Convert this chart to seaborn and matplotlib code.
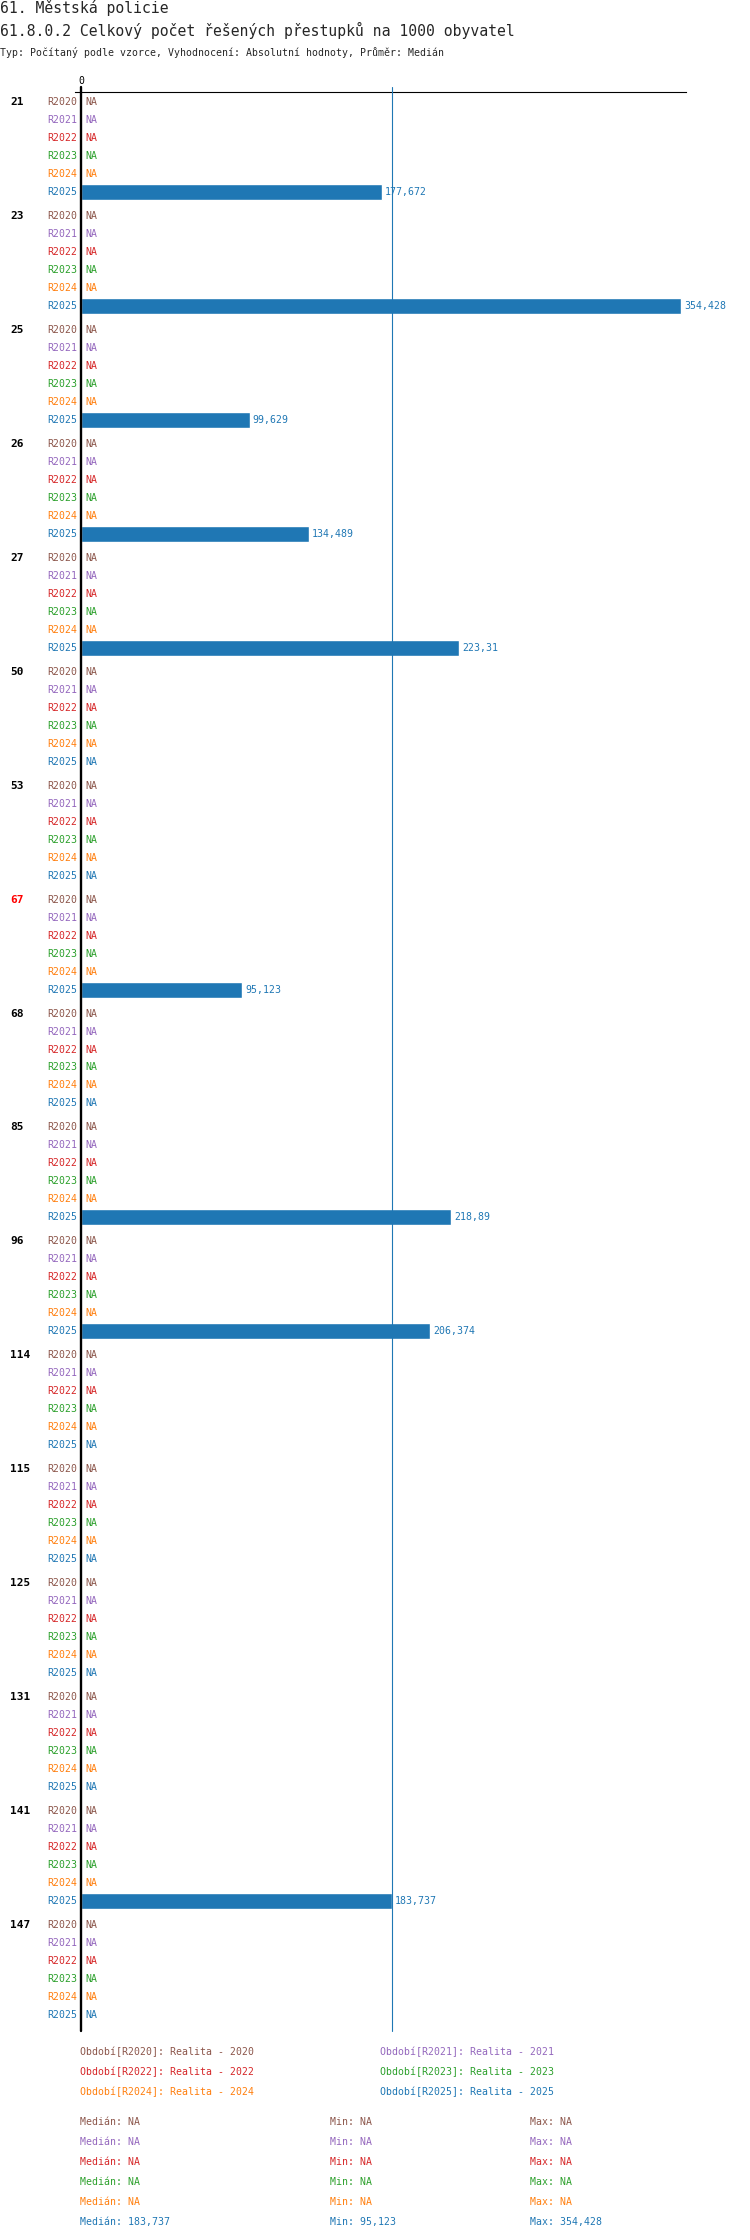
import numpy as np
import pandas as pd
import matplotlib
matplotlib.use("Agg")
import matplotlib.pyplot as plt
from matplotlib import transforms
import seaborn as sns

NA = np.nan

# data
groups = ["21", "23", "25", "26", "27", "50", "53", "67", "68", "85",
          "96", "114", "115", "125", "131", "141", "147"]
highlight = ["67"]
years = ["R2020", "R2021", "R2022", "R2023", "R2024", "R2025"]
year_names = ["Realita - 2020", "Realita - 2021", "Realita - 2022",
              "Realita - 2023", "Realita - 2024", "Realita - 2025"]
year_colors = ["#8c564b", "#9467bd", "#d62728", "#2ca02c", "#ff7f0e", "#1f77b4"]

r2020 = [NA, NA, NA, NA, NA, NA, NA, NA, NA, NA, NA, NA, NA, NA, NA, NA, NA]
r2021 = [NA, NA, NA, NA, NA, NA, NA, NA, NA, NA, NA, NA, NA, NA, NA, NA, NA]
r2022 = [NA, NA, NA, NA, NA, NA, NA, NA, NA, NA, NA, NA, NA, NA, NA, NA, NA]
r2023 = [NA, NA, NA, NA, NA, NA, NA, NA, NA, NA, NA, NA, NA, NA, NA, NA, NA]
r2024 = [NA, NA, NA, NA, NA, NA, NA, NA, NA, NA, NA, NA, NA, NA, NA, NA, NA]
r2025 = [177.672, 354.428, 99.629, 134.489, 223.31, NA, NA, 95.123, NA,
         218.89, 206.374, NA, NA, NA, NA, 183.737, NA]
series = [r2020, r2021, r2022, r2023, r2024, r2025]

title1 = "61. Městská policie"
title2 = "61.8.0.2 Celkový počet řešených přestupků na 1000 obyvatel"
subtitle = "Typ: Počítaný podle vzorce, Vyhodnocení: Absolutní hodnoty, Průměr: Medián"


def fmt(v):
    if v is None or np.isnan(v):
        return "NA"
    return f"{v:.3f}".rstrip("0").rstrip(".").replace(".", ",")


# layout
W, H = 750, 2240
GROUP_STEP = 6 + 1 / 3
rows = []
for g, code in enumerate(groups):
    for r, yr in enumerate(years):
        rows.append({"group": code, "year": yr, "ri": r,
                     "pos": g * GROUP_STEP + r, "value": series[r][g]})
df = pd.DataFrame(rows)

sns.set_theme(style="white")
plt.rcParams["font.family"] = ["DejaVu Sans Mono", "DejaVu Sans"]
small = 7.1
fig = plt.figure(figsize=(W / 100, H / 100), dpi=100)
ax_left, ax_right, ax_top, ax_bot = 75, 686, 92, 2031
ax = fig.add_axes([ax_left / W, 1 - ax_bot / H, (ax_right - ax_left) / W,
                   (ax_bot - ax_top) / H])

sns.barplot(data=df, x="value", y="pos", orient="y", native_scale=True,
            width=0.89, color="#1f77b4", saturation=1, errorbar=None, ax=ax)

vmax = np.nanmax(r2025)
ax.set_xlim(-6 / 1.693, vmax * 1.0085)
ax.set_ylim(df["pos"].max() + 0.889, -0.556)
ax.set_xlabel("")
ax.set_ylabel("")
for s in ["left", "right", "bottom"]:
    ax.spines[s].set_visible(False)
ax.spines["top"].set_visible(True)
ax.spines["top"].set_color("black")
ax.spines["top"].set_linewidth(0.8)
ax.set_yticks([])
ax.xaxis.tick_top()
ax.set_xticks([0])
ax.set_xticklabels(["0"])
ax.tick_params(axis="x", length=0, pad=4, labelsize=small, colors="black")
ax.grid(False)

ext = 1 + 5 / (ax_bot - ax_top)
ax.axvline(0, ymin=0, ymax=ext, color="black", lw=1.7, clip_on=False, zorder=5)
med = np.nanmedian(r2025)
ax.axvline(med, ymin=0, ymax=ext, color="#1f77b4", lw=0.8, clip_on=False, zorder=4)

left_tr = transforms.offset_copy(ax.transData, fig=fig, x=-4, y=0, units="dots")
right_tr = transforms.offset_copy(ax.transData, fig=fig, x=4, y=0, units="dots")
val_tr = transforms.offset_copy(ax.transData, fig=fig, x=3, y=0, units="dots")
grp_tr = transforms.blended_transform_factory(fig.transFigure, ax.transData)

for _, row in df.iterrows():
    c = year_colors[row["ri"]]
    ax.text(0, row["pos"], row["year"], ha="right", va="center", color=c,
            fontsize=small, transform=left_tr)
    if np.isnan(row["value"]):
        ax.text(0, row["pos"], "NA", ha="left", va="center", color=c,
                fontsize=small, transform=right_tr)
    else:
        ax.text(row["value"], row["pos"], fmt(row["value"]), ha="left",
                va="center", color=c, fontsize=small, transform=val_tr)

for g, code in enumerate(groups):
    ax.text(10 / W, g * GROUP_STEP, code, ha="left", va="center",
            fontsize=8, fontweight="bold", transform=grp_tr,
            color="red" if code in highlight else "black")

# titles
fig.text(0, 1 - 8 / H, title1, fontsize=10.6, va="center", ha="left")
fig.text(0, 1 - 30 / H, title2, fontsize=10.6, va="center", ha="left")
fig.text(0, 1 - 52 / H, subtitle, fontsize=small, va="center", ha="left")

# legend
for i, (yr, nm) in enumerate(zip(years, year_names)):
    x = 80 if i % 2 == 0 else 380
    y = 2052 + 20 * (i // 2)
    fig.text(x / W, 1 - y / H, f"Období[{yr}]: {nm}", color=year_colors[i],
             fontsize=small, va="center", ha="left")

# stats
for i, s in enumerate(series):
    y = 2122 + 20 * i
    c = year_colors[i]
    fig.text(80 / W, 1 - y / H, f"Medián: {fmt(np.nanmedian(s) if not np.all(np.isnan(s)) else NA)}",
             color=c, fontsize=small, va="center")
    fig.text(330 / W, 1 - y / H, f"Min: {fmt(np.nanmin(s) if not np.all(np.isnan(s)) else NA)}",
             color=c, fontsize=small, va="center")
    fig.text(530 / W, 1 - y / H, f"Max: {fmt(np.nanmax(s) if not np.all(np.isnan(s)) else NA)}",
             color=c, fontsize=small, va="center")

fig.savefig("out.png", dpi=100)
